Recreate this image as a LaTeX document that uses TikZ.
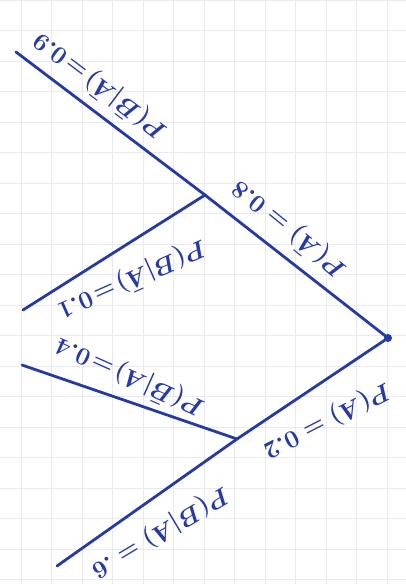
\documentclass[tikz,border=0pt]{standalone}
\usepackage{tikz}
\definecolor{ink}{RGB}{38,58,165}
\definecolor{gridc}{RGB}{232,234,240}
\begin{document}
\begin{tikzpicture}[x=1pt,y=-1pt,
  branch/.style={ink, line width=2.8pt, line cap=round, line join=round},
  lab/.style={ink, font=\fontsize{34}{38}\selectfont\boldmath, inner sep=0pt}]
\useasboundingbox (0,0) rectangle (406,584);
\fill[white] (0,0) rectangle (406,584);
% graph paper
\foreach \i in {0,...,13} {\draw[gridc, line width=1pt] (21+30.5*\i,0) -- (21+30.5*\i,584);}
\foreach \j in {0,...,19} {\draw[gridc, line width=1pt] (0,30.5*\j) -- (406,30.5*\j);}
% tree points
\coordinate (R) at (388,338);
\coordinate (N1) at (205,195);
\coordinate (N2) at (237,439);
\coordinate (T1) at (16,52);
\coordinate (E2) at (23,310);
\coordinate (E3) at (22,365);
\coordinate (E4) at (57,566);
% branches
\draw[branch] (R) -- (N1);
\draw[branch] (N1) -- (T1);
\draw[branch] (N1) -- (E2);
\draw[branch] (R) -- (N2);
\draw[branch] (N2) -- (E3);
\draw[branch] (N2) -- (E4);
\fill[ink] (R) circle (4pt);
% labels
\node[lab, rotate=143] (l1) at (100,86) {$P(\bar{B}|\bar{A})\!=\!0.9$};
\node[lab, rotate=141] (l2) at (289,229) {$P(\bar{A})=0.8$};
\node[lab, rotate=204] (l3) at (132,279) {$P(B|\bar{A})\!=\!0.1$};
\node[lab, rotate=156] (l4) at (130,377) {$P(\bar{B}|A)\!=\!0.4$};
\node[lab, rotate=207] (l5) at (327,420) {$P(A)=0.2$};
\node[lab, rotate=211] (l6) at (160,532) {$P(B|A)=.6$};
\end{tikzpicture}
\end{document}
